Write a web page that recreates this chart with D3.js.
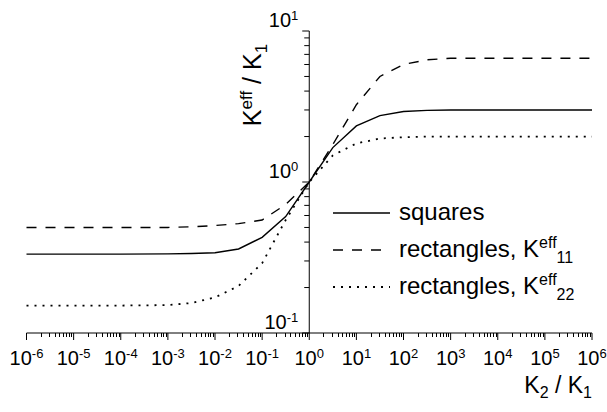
<!DOCTYPE html>
<html>
<head>
<meta charset="utf-8">
<script src="https://cdn.jsdelivr.net/npm/d3@7"></script>
<style>
  body { margin: 0; background: #fff; }
  svg { display: block; font-family: "Liberation Sans", Arial, sans-serif; }
</style>
</head>
<body>
<div id="chart"></div>
<script>
// données (log10 de K2/K1)
const logK = [-6, -5, -4, -3, -2.5, -2, -1.5, -1, -0.5, 0, 0.5, 1, 1.5, 2, 2.5, 3, 4, 5, 6];
const squares = [0.333, 0.333, 0.333, 0.334, 0.336, 0.34, 0.36, 0.43, 0.59, 1.0, 1.69, 2.35, 2.75, 2.93, 2.98, 3.0, 3.0, 3.0, 3.0];
const rect11 = [0.5, 0.5, 0.5, 0.5, 0.505, 0.515, 0.53, 0.56, 0.71, 1.0, 1.77, 3.25, 5.0, 6.0, 6.45, 6.6, 6.6, 6.6, 6.6];
const rect22 = [0.152, 0.152, 0.152, 0.153, 0.158, 0.172, 0.205, 0.29, 0.56, 1.0, 1.5, 1.8, 1.94, 1.98, 2.0, 2.0, 2.0, 2.0, 2.0];
const xExponents = [-6, -5, -4, -3, -2, -1, 0, 1, 2, 3, 4, 5, 6];
const yExponents = [-1, 0, 1];

const width = 607, height = 412;

let svg = d3.select("#chart").append("svg")
  .attr("width", width)
  .attr("height", height);

let x = d3.scaleLog().domain([1e-6, 1e6]).range([26.5, 592]);
let y = d3.scaleLog().domain([0.1, 10]).range([333, 31]);

const x0 = x(1); // l'axe y passe par K2/K1 = 1
const y0 = y(0.1);

// ----- axe x -----
svg.append("line")
  .attr("x1", x(1e-6)).attr("x2", x(1e6))
  .attr("y1", y0).attr("y2", y0)
  .attr("stroke", "#000").attr("stroke-width", 1);

let xMinor = [];
xExponents.slice(0, -1).forEach(e => {
  for (let m = 2; m <= 9; m++) xMinor.push(m * Math.pow(10, e));
});

svg.append("g").selectAll("line").data(xMinor).join("line")
  .attr("x1", d => Math.round(x(d)) + 0.5).attr("x2", d => Math.round(x(d)) + 0.5)
  .attr("y1", y0).attr("y2", y0 + 4)
  .attr("stroke", "#000");

svg.append("g").selectAll("line").data(xExponents).join("line")
  .attr("x1", d => x(Math.pow(10, d))).attr("x2", d => x(Math.pow(10, d)))
  .attr("y1", y0).attr("y2", y0 + 7)
  .attr("stroke", "#000");

let xLabels = svg.append("g").attr("font-size", 20).attr("text-anchor", "middle");
xExponents.forEach(e => {
  let t = xLabels.append("text")
    .attr("x", x(Math.pow(10, e)))
    .attr("y", 365);
  t.append("tspan").text("10");
  t.append("tspan").attr("font-size", 13).attr("dy", -7).text(e);
});

// ----- axe y -----
svg.append("line")
  .attr("x1", x0).attr("x2", x0)
  .attr("y1", y(10)).attr("y2", y0)
  .attr("stroke", "#000");

let yMinor = [];
yExponents.slice(0, -1).forEach(e => {
  for (let m = 2; m <= 9; m++) yMinor.push(m * Math.pow(10, e));
});

svg.append("g").selectAll("line").data(yMinor).join("line")
  .attr("x1", x0 - 5).attr("x2", x0)
  .attr("y1", d => y(d)).attr("y2", d => y(d))
  .attr("stroke", "#000");

svg.append("g").selectAll("line").data(yExponents).join("line")
  .attr("x1", x0 - 7).attr("x2", x0)
  .attr("y1", d => y(Math.pow(10, d))).attr("y2", d => y(Math.pow(10, d)))
  .attr("stroke", "#000");

let yLabels = svg.append("g").attr("font-size", 20).attr("text-anchor", "end");
yExponents.forEach(e => {
  let t = yLabels.append("text")
    .attr("x", x0 - 11)
    .attr("y", y(Math.pow(10, e)) - 4);
  t.append("tspan").text("10");
  t.append("tspan").attr("font-size", 13).attr("dy", -7).text(e);
});

// titres des axes
let yTitle = svg.append("text")
  .attr("transform", `translate(261,85) rotate(-90)`)
  .attr("text-anchor", "middle")
  .attr("font-size", 25);
yTitle.append("tspan").text("K");
yTitle.append("tspan").attr("font-size", 17).attr("dy", -9).text("eff");
yTitle.append("tspan").attr("dy", 9).text(" / K");
yTitle.append("tspan").attr("font-size", 17).attr("dy", 6).text("1");

let xTitle = svg.append("text")
  .attr("x", 592).attr("y", 393)
  .attr("text-anchor", "end")
  .attr("font-size", 23);
xTitle.append("tspan").text("K");
xTitle.append("tspan").attr("font-size", 16).attr("dy", 5).text("2");
xTitle.append("tspan").attr("dy", -5).text(" / K");
xTitle.append("tspan").attr("font-size", 16).attr("dy", 5).text("1");

// ----- courbes -----
const series = [
  { name: "squares", values: squares, dash: null, sub: null },
  { name: "rectangles, K", values: rect11, dash: "10,9", sub: "11" },
  { name: "rectangles, K", values: rect22, dash: "2,6", sub: "22" }
];

let line = d3.line()
  .x((d, i) => x(Math.pow(10, logK[i])))
  .y(d => y(d));

series.forEach(s => {
  svg.append("path")
    .datum(s.values)
    .attr("d", line)
    .attr("fill", "none")
    .attr("stroke", "#000")
    .attr("stroke-width", s.dash === "2,6" ? 1.8 : 1.4)
    .attr("stroke-dasharray", s.dash);
});

// ----- légende -----
let legend = svg.append("g");
series.forEach((s, i) => {
  let ly = 213 + i * 37;
  legend.append("line")
    .attr("x1", 333).attr("x2", 390)
    .attr("y1", ly).attr("y2", ly)
    .attr("stroke", "#000")
    .attr("stroke-width", s.dash === "2,6" ? 1.8 : 1.4)
    .attr("stroke-dasharray", s.dash);
  let t = legend.append("text")
    .attr("x", 399).attr("y", ly + 7)
    .attr("font-size", 24);
  t.append("tspan").text(s.name);
  if (s.sub) {
    t.append("tspan").attr("font-size", 16).attr("dy", -9).text("eff");
    t.append("tspan").attr("font-size", 16).attr("dy", 15).text(s.sub);
  }
});
</script>
</body>
</html>
